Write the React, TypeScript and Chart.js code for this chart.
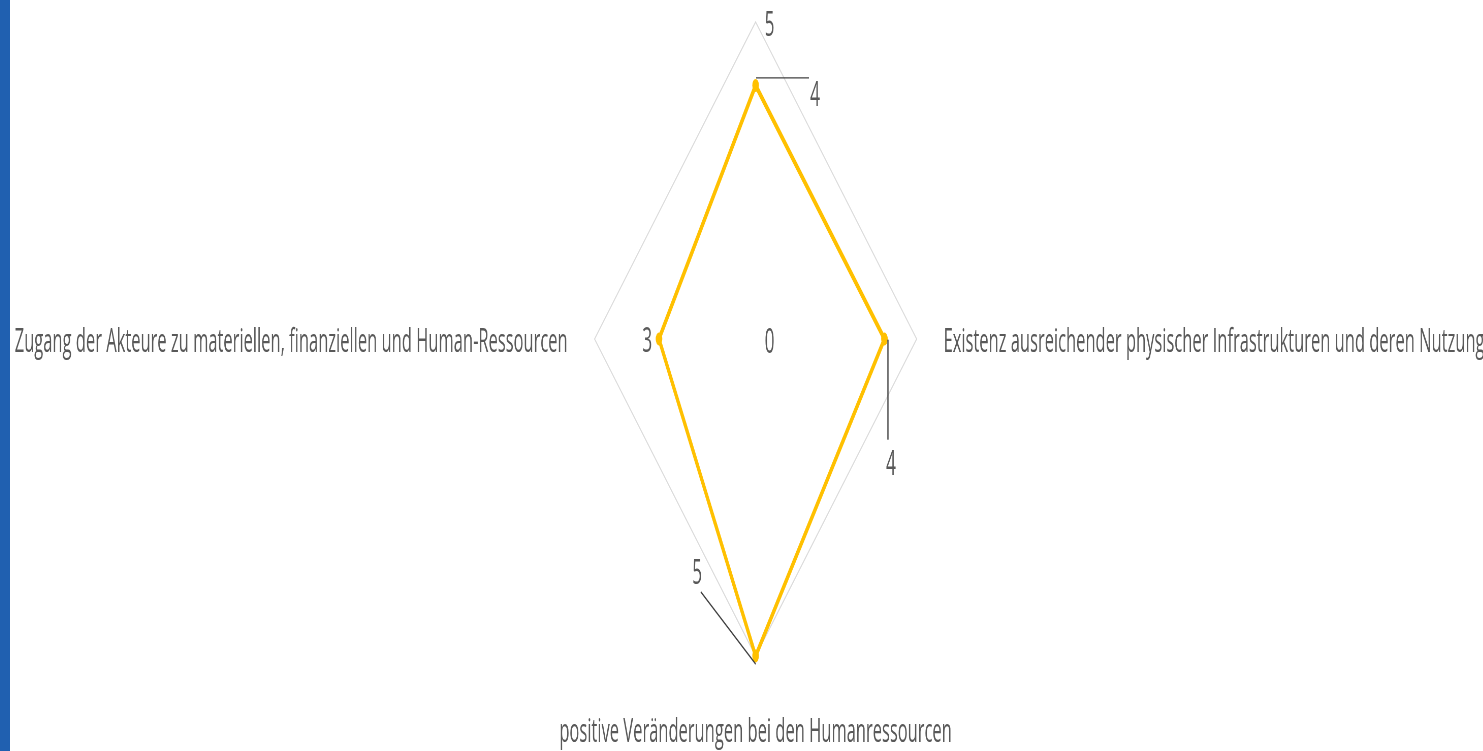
import React, { useEffect, useRef } from 'react';
import { Chart, registerables } from 'chart.js';

Chart.register(...registerables);

// ---- data ----
const categories: string[] = [
  '',
  'Existenz ausreichender physischer Infrastrukturen und deren Nutzung',
  'positive Veränderungen bei den Humanressourcen',
  'Zugang der Akteure zu materiellen, finanziellen und Human-Ressourcen',
];
const values: number[] = [4, 4, 5, 3];
const scaleMin = 0;
const scaleMax = 5;
const tickStep = 5;

// ---- layout (the whole chart is horizontally squeezed) ----
const SX = 0.508;
const CANVAS_W = 3400;
const CANVAS_H = 826;
const PAGE_W = 1483;
const PAGE_H = 751;
const CENTER_PAGE_X = 755.5;
const OFFSET_X = CENTER_PAGE_X - (CANVAS_W / 2) * SX;
const OFFSET_Y = -26;

const FONT = '"Open Sans", "Noto Sans", sans-serif';
const TEXT_COLOR = '#595959';
const LABEL_SIZE = 32.5;

// offsets (unscaled canvas px) of leader lines and value labels relative to each point
const labelLayout: { leader?: [number, number][]; lw?: number; text: [number, number] }[] = [
  { leader: [[1, -7.6], [105, -7.6]], lw: 1.3, text: [117, 10.7] },
  { leader: [[6.9, 0.7], [6.9, 100.7]], lw: 2.4, text: [12.8, 126.7] },
  { leader: [[0, 8.1], [-108, -64.2]], lw: 1.8, text: [-115, -82] },
  { text: [-23.2, 3.7] },
];

// side labels get an empty leading line with a tiny line height: nudges them slightly downward
const sideIdx = [1, 3];
const chartLabels = categories.map((c, i) => (sideIdx.includes(i) ? ['', c] : c));

const annotatePlugin = {
  id: 'annotate',
  afterDatasetsDraw(chart: any) {
    const ctx = chart.ctx as CanvasRenderingContext2D;
    const r = chart.scales.r;
    const meta = chart.getDatasetMeta(0);
    ctx.save();
    ctx.font = `34px ${FONT}`;
    ctx.fillStyle = TEXT_COLOR;
    ctx.textAlign = 'center';
    ctx.textBaseline = 'middle';
    // radial tick labels (0 and 5)
    r.ticks.forEach((t: any) => {
      const d = r.getDistanceFromCenterForValue(t.value);
      ctx.fillText(String(t.value), r.xCenter + 27.5, r.yCenter - d + 4);
    });
    // leader lines + data labels
    ctx.strokeStyle = '#404040';
    meta.data.forEach((pt: any, i: number) => {
      const lay = labelLayout[i];
      if (!lay) return;
      if (lay.leader) {
        ctx.lineWidth = lay.lw || 1.5;
        ctx.beginPath();
        ctx.moveTo(pt.x + lay.leader[0][0], pt.y + lay.leader[0][1]);
        ctx.lineTo(pt.x + lay.leader[1][0], pt.y + lay.leader[1][1]);
        ctx.stroke();
      }
      ctx.fillText(String(values[i]), pt.x + lay.text[0], pt.y + lay.text[1]);
    });
    ctx.restore();
  },
};

export default function App() {
  const canvasRef = useRef<HTMLCanvasElement | null>(null);

  useEffect(() => {
    document.body.style.margin = '0';
    document.body.style.overflow = 'hidden';
    const canvas = canvasRef.current;
    if (!canvas) return;
    const chart = new Chart(canvas, {
      type: 'radar',
      data: {
        labels: chartLabels,
        datasets: [
          {
            data: values,
            borderColor: '#ffc000',
            backgroundColor: 'rgba(0,0,0,0)',
            fill: false,
            borderWidth: 6,
            pointRadius: 6.5,
            pointBackgroundColor: '#ffc000',
            pointBorderColor: '#ffc000',
            pointBorderWidth: 0,
            pointHoverRadius: 6.5,
          },
        ],
      },
      options: {
        responsive: false,
        animation: false,
        devicePixelRatio: 1,
        layout: { padding: 0 },
        plugins: {
          legend: { display: false },
          tooltip: { enabled: false },
        },
        elements: { line: { tension: 0 } },
        scales: {
          r: {
            min: scaleMin,
            max: scaleMax,
            ticks: { display: false, stepSize: tickStep },
            grid: { color: '#d9d9d9', lineWidth: 1.6 },
            angleLines: { display: false },
            pointLabels: {
              display: true,
              color: TEXT_COLOR,
              font: (c: any) =>
                c.index === 0
                  ? { family: FONT, size: 1, lineHeight: 0.01 }
                  : sideIdx.includes(c.index)
                  ? { family: FONT, size: LABEL_SIZE, lineHeight: 0.25 }
                  : { family: FONT, size: LABEL_SIZE, lineHeight: 1.2 },
              padding: (c: any) => (c.index === 0 ? -20 : c.index === 2 ? 57 : 53),
            },
          },
        },
      },
      plugins: [annotatePlugin],
    } as any);
    return () => chart.destroy();
  }, []);

  return (
    <div style={{ position: 'relative', width: PAGE_W, height: PAGE_H, overflow: 'hidden', background: '#ffffff' }}>
      <div
        style={{
          position: 'absolute',
          left: OFFSET_X,
          top: OFFSET_Y,
          width: CANVAS_W,
          height: CANVAS_H,
          transform: `scaleX(${SX})`,
          transformOrigin: '0 0',
        }}
      >
        <canvas
          ref={canvasRef}
          width={CANVAS_W}
          height={CANVAS_H}
          style={{ display: 'block', width: CANVAS_W, height: CANVAS_H }}
        />
      </div>
      <div style={{ position: 'absolute', left: 0, top: 0, width: 10, height: PAGE_H, background: '#2060b0' }} />
    </div>
  );
}
